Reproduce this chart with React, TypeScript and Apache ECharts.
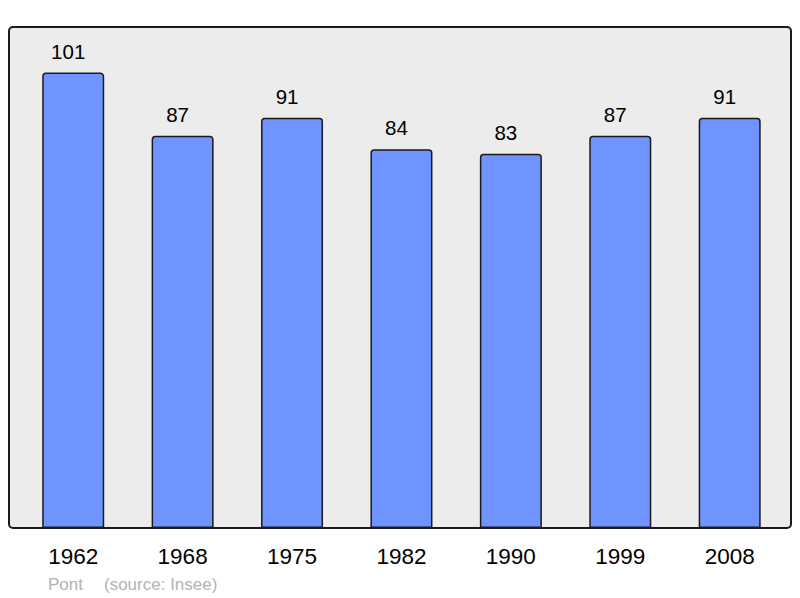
import React, { useEffect, useRef } from "react";
import * as echarts from "echarts";

const years = ["1962", "1968", "1975", "1982", "1990", "1999", "2008"];
const population = [101, 87, 91, 84, 83, 87, 91];
const footerName = "Pont";
const footerSource = "(source: Insee)";

export default function App() {
  const ref = useRef<HTMLDivElement>(null);
  useEffect(() => {
    if (!ref.current) return;
    const chart = echarts.init(ref.current, null, { renderer: "svg" });
    chart.setOption({
      animation: false,
      textStyle: { fontFamily: "Liberation Sans, Arial, sans-serif" },
      graphic: [
        {
          type: "rect",
          z: -10,
          silent: true,
          shape: { x: 9, y: 27, width: 782, height: 501, r: 4 },
          style: { fill: "#ececec", stroke: "none" },
        },
        {
          type: "rect",
          z: 100,
          silent: true,
          shape: { x: 9, y: 27, width: 782, height: 501, r: 4 },
          style: { fill: "none", stroke: "#1a1a1a", lineWidth: 2 },
        },
        {
          type: "text",
          left: 48,
          top: 576,
          style: { text: footerName, fill: "#b3b3b3", fontSize: 17, fontFamily: "Liberation Sans, Arial, sans-serif" },
        },
        {
          type: "text",
          left: 104,
          top: 576,
          style: { text: footerSource, fill: "#b3b3b3", fontSize: 17, fontFamily: "Liberation Sans, Arial, sans-serif" },
        },
      ],
      grid: { left: 18.5, right: 15.6, top: 27, bottom: 70, containLabel: false },
      xAxis: {
        type: "category",
        data: years,
        axisLine: { show: false },
        axisTick: { show: false },
        axisLabel: { color: "#000", fontSize: 22.5, margin: 17 },
      },
      yAxis: {
        type: "value",
        min: 0,
        max: 111.1,
        show: false,
        splitLine: { show: false },
      },
      series: [
        {
          type: "bar",
          data: population,
          barWidth: 62,
          itemStyle: {
            color: "#7094ff",
            borderColor: "#1a1a1a",
            borderWidth: 1.5,
            borderRadius: [3, 3, 0, 0],
          },
          label: {
            show: true,
            position: "top",
            distance: 11,
            offset: [-5, 0],
            color: "#000",
            fontSize: 20.5,
          },
        },
      ],
    });
    return () => chart.dispose();
  }, []);
  return <div ref={ref} style={{ width: 800, height: 598, position: "absolute", left: 0, top: 0 }} />;
}
